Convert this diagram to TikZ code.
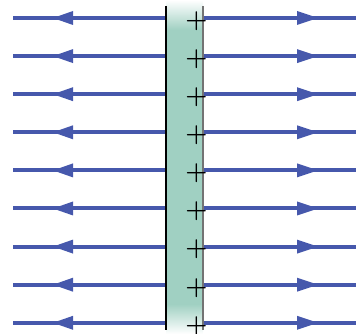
\documentclass[tikz,border=0pt]{standalone}
\usetikzlibrary{calc}
\definecolor{fieldblue}{RGB}{70,88,172}
\definecolor{slabteal}{RGB}{160,208,194}
\tikzset{
  fieldline/.style={draw=fieldblue, line width=3pt},
  headfill/.style={fill=fieldblue, draw=none},
  plusmark/.style={inner sep=0pt, font=\fontsize{19}{19}\selectfont\bfseries, text=black},
}
\begin{document}
\begin{tikzpicture}[x=0.75pt,y=-0.75pt]
\useasboundingbox (0,0) rectangle (356,334);
% slab
\fill[slabteal] (166,30) rectangle (203,304);
\shade[top color=white, bottom color=slabteal, draw=none] (166,0) rectangle (203,30);
\shade[top color=slabteal, bottom color=white, draw=none] (166,304) rectangle (203,334);
\foreach \i in {0,...,8} {
  \pgfmathsetmacro{\yy}{18+38.1*\i}
  \draw[fieldline] (13,\yy) -- (165,\yy);
  \draw[fieldline] (204,\yy) -- (356,\yy);
  \fill[headfill] (53,\yy) -- (73,\yy-7) -- (73,\yy+7) -- cycle;
  \fill[headfill] (318,\yy) -- (297,\yy-7) -- (297,\yy+7) -- cycle;
}
\draw[black, line width=1.5pt] (166,6) -- (166,330);
\draw[black!55, line width=0.8pt] (203,6) -- (203,330);
\foreach \i in {0,...,8} {
  \pgfmathsetmacro{\yy}{21+38.1*\i}
  \node[plusmark] (p\i) at (196.5,\yy) {+};
}
\end{tikzpicture}
\end{document}
